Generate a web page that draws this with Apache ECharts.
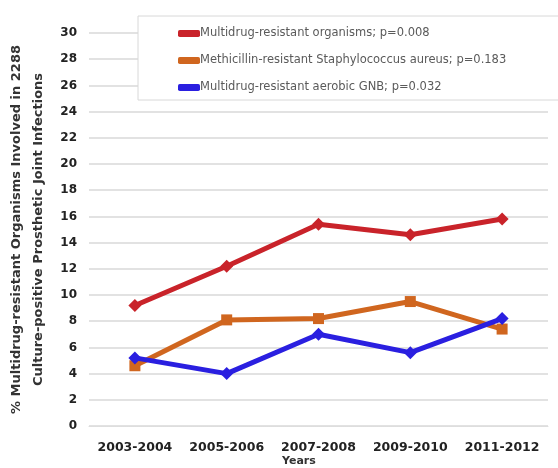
<!DOCTYPE html>
<html>
<head>
<meta charset="utf-8">
<script src="https://cdn.jsdelivr.net/npm/echarts@6/dist/echarts.min.js"></script>
<style>
  html, body { margin: 0; padding: 0; background: #fff; }
  #chart { width: 558px; height: 468px; }
</style>
</head>
<body>
<div id="chart"></div>
<script>
// Two-year periods on the x axis
const periods = ['2003-2004', '2005-2006', '2007-2008', '2009-2010', '2011-2012'];

// Percentages of infections involving each organism group
const mdrOrganisms = [9.2, 12.2, 15.4, 14.6, 15.8];
const mrsa = [4.6, 8.1, 8.2, 9.5, 7.4];
const mdrGNB = [5.2, 4.0, 7.0, 5.6, 8.2];

const seriesNames = [
  'Multidrug-resistant organisms; p=0.008',
  'Methicillin-resistant Staphylococcus aureus; p=0.183',
  'Multidrug-resistant aerobic GNB; p=0.032'
];

const yTicks = { min: 0, max: 30, step: 2 };

const colors = ['#c9232a', '#d0661f', '#2a1fe0'];
const symbols = ['diamond', 'rect', 'diamond'];
const values = [mdrOrganisms, mrsa, mdrGNB];

const FONT = '"DejaVu Sans", Verdana, sans-serif';

const chart = echarts.init(document.getElementById('chart'), null, { renderer: 'canvas' });

chart.setOption({
  animation: false,
  backgroundColor: '#fff',
  textStyle: { fontFamily: FONT },
  grid: { left: 89, right: 10, top: 33, bottom: 42, containLabel: false, outerBoundsMode: 'none' },
  graphic: [{
    type: 'rect',
    shape: { x: 138, y: 16, width: 430, height: 84 },
    style: { fill: '#fff', stroke: '#d8d8d8', lineWidth: 1 },
    z: 5
  }, {
    type: 'text',
    left: 282,
    top: 456,
    style: { text: 'Years', fontFamily: FONT, fontSize: 11, fontWeight: 'bold', fill: '#333' }
  }],
  legend: {
    orient: 'vertical',
    left: 178,
    top: 26,
    itemGap: 12,
    itemWidth: 22,
    itemHeight: 7,
    padding: 0,
    z: 10,
    textStyle: { fontFamily: FONT, fontSize: 11.5, color: '#5a5a5a', padding: [0, 0, 0, -5], lineHeight: 15 },
    data: seriesNames.map((n) => ({ name: n, icon: 'roundRect' }))
  },
  xAxis: {
    type: 'category',
    data: periods,
    boundaryGap: true,
    axisLine: { show: true, lineStyle: { color: '#ddd', type: 'dotted', width: 1 } },
    axisTick: { show: false },
    axisLabel: { interval: 0, fontFamily: FONT, fontSize: 12.5, fontWeight: 'bold', color: '#222', margin: 15 }
  },
  yAxis: {
    type: 'value',
    min: yTicks.min,
    max: yTicks.max,
    interval: yTicks.step,
    name: '% Multidrug-resistant Organisms Involved in 2288\nCulture-positive Prosthetic Joint Infections',
    nameLocation: 'middle',
    nameRotate: 90,
    nameGap: 36,
    nameTextStyle: { fontFamily: FONT, fontSize: 13, fontWeight: 'bold', color: '#333', lineHeight: 22, align: 'center' },
    axisLine: { show: false },
    axisTick: { show: false },
    axisLabel: { fontFamily: FONT, fontSize: 12, fontWeight: 'bold', color: '#222', margin: 12 },
    splitLine: { show: true, lineStyle: { color: '#e2e2e2', width: 2 } }
  },
  series: values.map((v, i) => ({
    name: seriesNames[i],
    type: 'line',
    data: v,
    symbol: symbols[i],
    symbolSize: i === 1 ? 11 : 13,
    lineStyle: { color: colors[i], width: 5 },
    itemStyle: { color: colors[i] },
    z: 3 + i
  }))
});
</script>
</body>
</html>
